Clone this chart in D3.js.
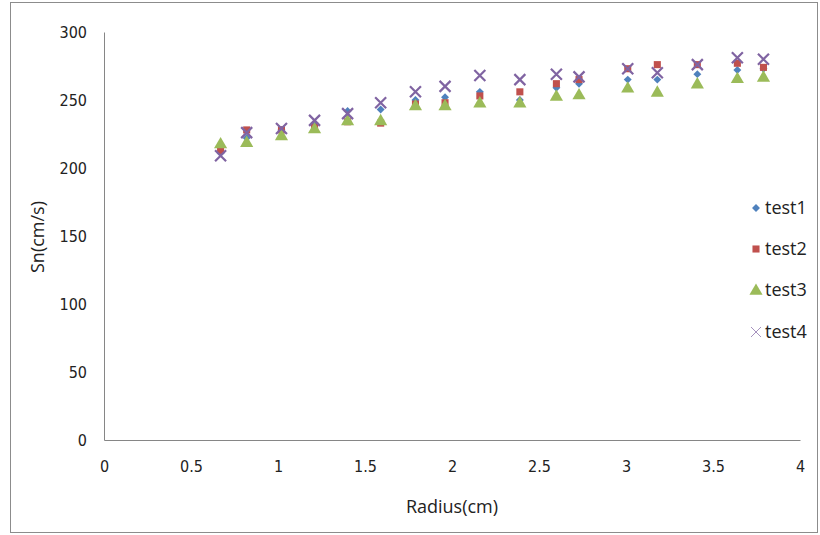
<!DOCTYPE html>
<html>
<head>
<meta charset="utf-8">
<script src="https://cdn.jsdelivr.net/npm/d3@7"></script>
<style>
  body { margin: 0; background: #fff; }
  svg { display: block; font-family: "Open Sans", sans-serif; }
  .tick text { font-family: "DejaVu Sans Condensed", "Open Sans", sans-serif; font-stretch: condensed; }
</style>
</head>
<body>
<div id="chart"></div>
<script>
// values
const radius = [0.67, 0.82, 1.02, 1.21, 1.40, 1.59, 1.79, 1.96, 2.16, 2.39, 2.60, 2.73, 3.01, 3.18, 3.41, 3.64, 3.79];
const test1 = [211, 222, 228, 233, 242, 243, 250, 252, 256, 250, 259, 262, 265, 265, 269, 272, 273];
const test2 = [213, 228, 228, 230, 234, 233, 247, 248, 253, 256, 262, 265, 273, 276, 276, 277, 274];
const test3 = [218, 219, 224, 229, 235, 235, 246, 246, 248, 248, 253, 254, 259, 256, 262, 266, 267];
const test4 = [209, 226, 229, 235, 240, 248, 256, 260, 268, 265, 269, 267, 273, 270, 276, 281, 280];
const seriesNames = ["test1", "test2", "test3", "test4"];
const xTicks = [0, 0.5, 1, 1.5, 2, 2.5, 3, 3.5, 4];
const yTicks = [0, 50, 100, 150, 200, 250, 300];

const width = 820, height = 535;
const svg = d3.select('#chart').append('svg')
    .attr('width', width)
    .attr('height', height);

// outer frame
svg.append('rect')
    .attr('x', 10.5).attr('y', 2.5)
    .attr('width', 807).attr('height', 530)
    .attr('fill', 'none')
    .attr('stroke', '#8c8c8c');

const x = d3.scaleLinear().domain([0, 4]).range([104, 800]);
const y = d3.scaleLinear().domain([0, 300]).range([440, 32]);

const axisColor = '#868686';
const fs = 18;
const tickFs = 16;

// x axis
const gx = svg.append('g')
    .attr('transform', `translate(0,${y(0)})`)
    .call(d3.axisBottom(x).tickValues(xTicks).tickSize(0).tickPadding(21)
        .tickFormat(d => d));
gx.select('.domain').attr('stroke', axisColor);
gx.selectAll('text').attr('font-size', tickFs).attr('fill', '#222');

// y axis
const gy = svg.append('g')
    .attr('transform', `translate(${x(0)},0)`)
    .call(d3.axisLeft(y).tickValues(yTicks).tickSize(0).tickPadding(17));
gy.select('.domain').attr('stroke', axisColor);
gy.selectAll('text').attr('font-size', tickFs).attr('fill', '#222');

// axis titles
svg.append('text')
    .attr('x', 452).attr('y', 513)
    .attr('text-anchor', 'middle')
    .attr('font-size', fs)
    .attr('fill', '#222')
    .text('Radius(cm)');

svg.append('text')
    .attr('transform', 'translate(44,237) rotate(-90)')
    .attr('text-anchor', 'middle')
    .attr('font-size', fs)
    .attr('fill', '#222')
    .text('Sn(cm/s)');

const colors = ['#4F81BD', '#C0504D', '#9BBB59', '#8064A2'];

const symDiamond = d3.symbol().type(d3.symbolDiamond2).size(40);
const symSquare = d3.symbol().type(d3.symbolSquare).size(50);
const symTriangle = d3.symbol().type(d3.symbolTriangle).size(75);

function drawMarker(g, i, px, py, big) {
    if (i === 3) {
        const s = big ? 5 : 5.5;
        g.append('path')
            .attr('d', `M${px - s},${py - s}L${px + s},${py + s}M${px - s},${py + s}L${px + s},${py - s}`)
            .attr('stroke', colors[3])
            .attr('stroke-width', big ? 1 : 2.2)
            .attr('fill', 'none')
            .attr('opacity', big ? 0.7 : 1);
        return;
    }
    const sym = [symDiamond, symSquare, symTriangle][i];
    g.append('path')
        .attr('transform', `translate(${px},${py + (i === 2 ? 1 : 0)})`)
        .attr('d', sym())
        .attr('fill', colors[i]);
}

const allSeries = [test1, test2, test3, test4];
const marks = svg.append('g');
allSeries.forEach((vals, i) => {
    const g = marks.append('g');
    vals.forEach((v, j) => drawMarker(g, i, x(radius[j]), y(v), false));
});

// legend
const legendY = [208, 249, 290, 332];
const legend = svg.append('g');
seriesNames.forEach((name, i) => {
    const g = legend.append('g');
    drawMarker(g, i, 756, legendY[i], i === 3);
    g.append('text')
        .attr('x', 765).attr('y', legendY[i])
        .attr('dy', '0.35em')
        .attr('font-size', fs)
        .attr('fill', '#222')
        .text(name);
});
</script>
</body>
</html>
